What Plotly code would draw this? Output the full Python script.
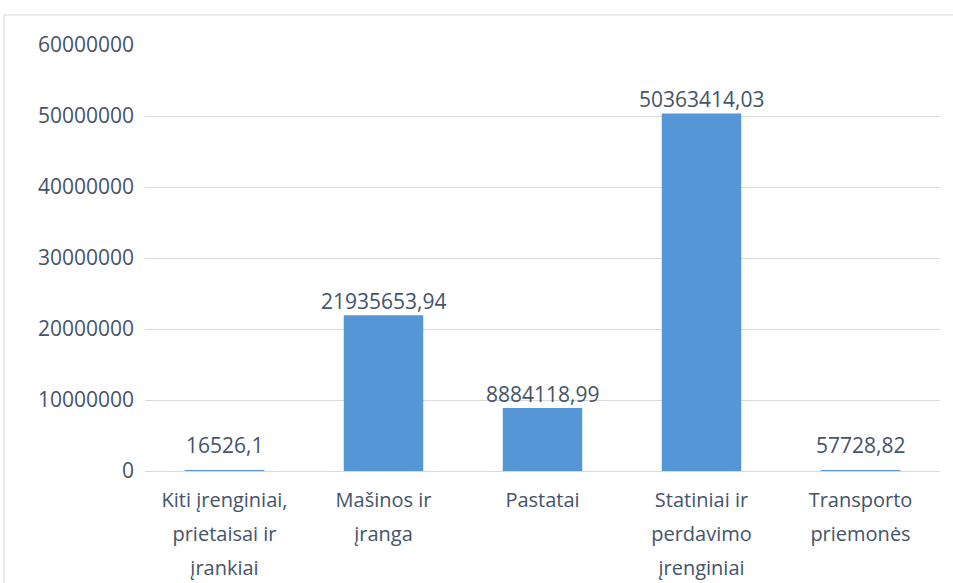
import plotly.graph_objects as go

# Category names (wrapped onto several lines) and their values
category_lines = [
    ["Kiti įrenginiai,", "prietaisai ir", "įrankiai"],
    ["Mašinos ir", "įranga"],
    ["Pastatai"],
    ["Statiniai ir", "perdavimo", "įrenginiai"],
    ["Transporto", "priemonės"],
]
values = [16526.1, 21935653.94, 8884118.99, 50363414.03, 57728.82]
value_labels = ["16526,1", "21935653,94", "8884118,99", "50363414,03", "57728,82"]
tick_values = [0, 10000000, 20000000, 30000000, 40000000, 50000000, 60000000]
tick_labels = ["0", "10000000", "20000000", "30000000", "40000000", "50000000", "60000000"]

TEXT = "#44546A"
GRID = "#D9D9D9"
BAR = "#5597D6"
FONT = "Open Sans"

# Category labels: a large base size gives the wider line spacing,
# while the span keeps the glyphs at the smaller size.
categories = [
    "<br>".join(f'<span style="font-size:20px">{line}</span>' for line in lines)
    for lines in category_lines
]

fig = go.Figure(
    go.Bar(
        x=categories,
        y=values,
        marker=dict(color=BAR, line=dict(width=0)),
        width=0.5,
        cliponaxis=False,
        hoverinfo="y",
    )
)

# Value labels above each bar (tiny bars get a bit more clearance from the axis)
annotations = []
for cat, val, lab in zip(categories, values, value_labels):
    annotations.append(
        dict(
            x=cat,
            y=val,
            xref="x",
            yref="y",
            text=lab,
            showarrow=False,
            yanchor="bottom",
            yshift=-2 if val > 1000000 else 10,
            font=dict(family=FONT, size=21, color=TEXT),
        )
    )

fig.update_layout(
    width=953,
    height=583,
    margin=dict(l=145, r=13, t=45, b=112),
    paper_bgcolor="white",
    plot_bgcolor="white",
    font=dict(family=FONT, size=21, color=TEXT),
    showlegend=False,
    annotations=annotations,
    xaxis=dict(
        automargin=False,
        showgrid=False,
        showline=False,
        ticks="",
        ticklabelstandoff=9,
        tickfont=dict(family=FONT, size=26, color=TEXT),
    ),
    yaxis=dict(
        automargin=False,
        range=[0, 60000000],
        tickvals=tick_values,
        ticktext=tick_labels,
        showgrid=True,
        gridcolor=GRID,
        gridwidth=1,
        zeroline=True,
        zerolinecolor=GRID,
        zerolinewidth=1,
        showline=False,
        ticks="",
        ticklabelstandoff=10,
        tickfont=dict(family=FONT, size=21, color=TEXT),
    ),
    shapes=[
        dict(
            type="rect",
            xref="paper",
            yref="paper",
            x0=-0.1774,
            x1=1.03,
            y0=-0.3,
            y1=1.0704,
            line=dict(color=GRID, width=1),
            fillcolor="rgba(0,0,0,0)",
            layer="below",
        )
    ],
)

fig.write_html("out.html")
